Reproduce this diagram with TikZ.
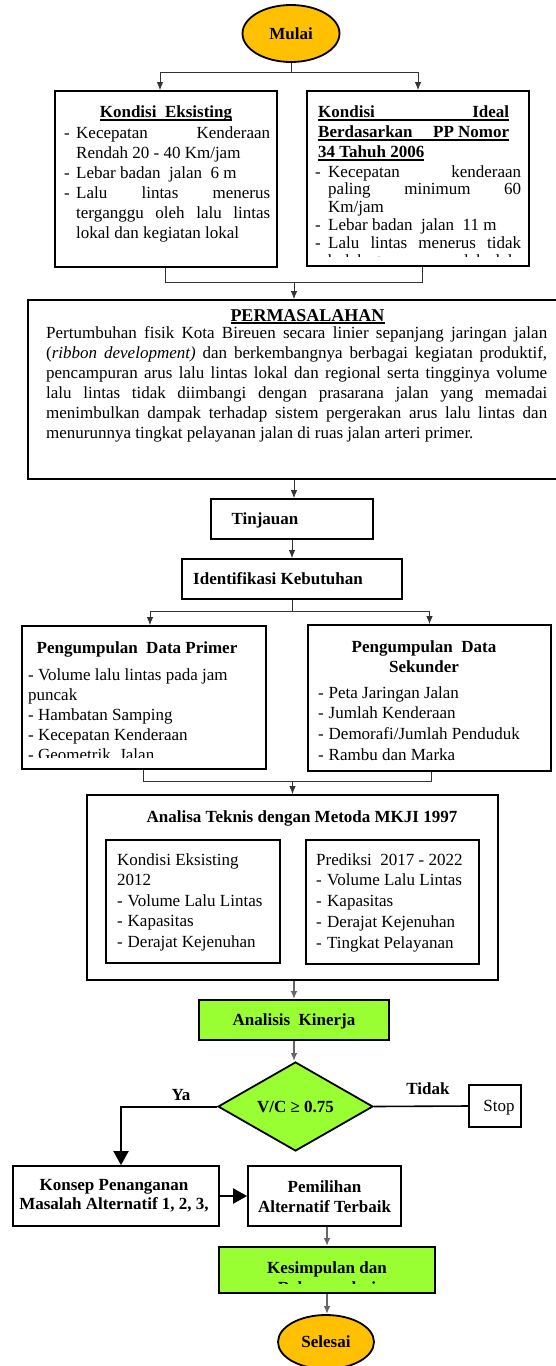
\documentclass[tikz,border=0pt]{standalone}
\usepackage{fontspec}
\setmainfont{Liberation Serif}
\usetikzlibrary{arrows.meta,shapes.geometric}
\definecolor{mygold}{RGB}{255,192,0}
\definecolor{mygreen}{RGB}{153,255,51}
\newcommand\fsn{\fontsize{17}{20}\selectfont}
\newcommand\fsb{\fontsize{17}{20}\selectfont\bfseries}
\newsavebox\ulbox
\newcommand\myul[1]{\sbox\ulbox{#1}\rlap{\vrule height -2.2pt depth 3.8pt width \wd\ulbox}\usebox\ulbox}
\newcommand\myult[1]{\sbox\ulbox{#1}\rlap{\vrule height -1.2pt depth 2.6pt width \wd\ulbox}\usebox\ulbox}
\newcommand\mydash[1]{\makebox[#1][l]{-}}
\tikzset{
  box/.style={draw=black, line width=1.8pt, inner sep=0pt, fill=white},
  ibox/.style={draw=black, line width=1.3pt, inner sep=0pt},
  one/.style={font=\fsb, text height=11.5pt, text depth=0pt},
  txt/.style={inner sep=0pt, align=left, font=\fsn},
  btxt/.style={inner sep=0pt, font=\fsb},
  conn/.style={draw=black!80, line width=0.9pt},
  conng/.style={draw=black!60, line width=1.6pt},
  connk/.style={draw=black, line width=2pt},
  arr/.style={-{Latex[length=8pt,width=6.5pt]}},
  bigarr/.style={-{Triangle[length=14pt,width=15pt]}},
}
\begin{document}
\begin{tikzpicture}[x=1pt,y=-1pt]
\useasboundingbox (0,0) rectangle (555,1366);
\fill[white] (0,0) rectangle (555,1366);

% ---------- boxes ----------
\node[box, ellipse, minimum width=97pt, minimum height=57pt, fill=mygold, one] (mulai) at (291,33.5) {Mulai};
\node[box, minimum width=222pt, minimum height=176pt] (ka) at (166,179) {};
\node[box, minimum width=222pt, minimum height=175pt] (kb) at (418,178.5) {};
\node[box, minimum width=532pt, minimum height=179pt] (perm) at (294,389.5) {};
\node[box, minimum width=162pt, minimum height=40pt, one] (tin) at (292,519) {Tinjauan\hspace*{54pt}};
\node[box, minimum width=220pt, minimum height=40pt, one] (idk) at (292,579) {Identifikasi Kebutuhan\hspace*{28pt}};
\node[box, minimum width=244pt, minimum height=143pt] (pri) at (144,697.5) {};
\node[box, minimum width=243pt, minimum height=146pt] (sek) at (429.5,698) {};
\node[box, minimum width=411pt, minimum height=185pt] (ana) at (292.5,887.5) {};
\node[ibox, minimum width=174pt, minimum height=123pt] (anl) at (193,901.5) {};
\node[ibox, minimum width=173pt, minimum height=124pt] (anr) at (392.5,902) {};
\node[box, minimum width=190pt, minimum height=40pt, fill=mygreen, one] (kin) at (294,1020) {Analisis\ \ Kinerja};
\node[box, diamond, minimum width=155pt, minimum height=89pt, fill=mygreen, one] (dia) at (295.5,1106.5) {V/C ≥ 0.75};
\node[box, minimum width=52pt, minimum height=42pt, font=\fsn, text height=11.5pt, text depth=0pt] (stop) at (495,1106) {\hspace*{8pt}Stop};
\node[box, minimum width=206pt, minimum height=60pt] (kon) at (116,1196) {};
\node[box, minimum width=153pt, minimum height=60pt] (pem) at (324.5,1196) {};
\node[box, minimum width=216pt, minimum height=46pt, fill=mygreen] (kes) at (327,1270) {};
\node[box, ellipse, minimum width=96pt, minimum height=54pt, fill=mygold, one] (sel) at (326,1342) {Selesai};

% ---------- texts ----------
\node[btxt, anchor=base] (kaH) at (166,117) {\myul{Kondisi\ \ Eksisting}};
\node[txt, anchor=north west] (kaT) at (64,124) {%
\strut\mydash{12pt}\makebox[194pt][s]{Kecepatan Kenderaan}\\
\hspace*{12pt}Rendah 20 - 40 Km/jam\\
\mydash{12pt}Lebar badan\ \ jalan\ \ 6 m\\
\mydash{12pt}\makebox[194pt][s]{Lalu lintas menerus}\\
\hspace*{12pt}\makebox[194pt][s]{terganggu oleh lalu lintas}\\
\hspace*{12pt}lokal dan kegiatan lokal};

\node[txt, font=\fsb, anchor=north west] (kbH) at (318,103) {%
\strut\myul{\makebox[191pt][s]{Kondisi Ideal}}\\
\myul{\makebox[191pt][l]{Berdasarkan\hfill PP Nomor}}\\
\myul{34 Tahuh 2006}};
\begin{scope}
\clip (309,100) rectangle (527,256);
\node[txt, font=\fontsize{17}{17.8}\selectfont, anchor=north west] (kbT) at (315,164.5) {%
\strut\mydash{13pt}\makebox[193pt][s]{Kecepatan kenderaan}\\
\hspace*{13pt}\makebox[193pt][s]{paling minimum 60}\\
\hspace*{13pt}Km/jam\\
\mydash{13pt}Lebar badan\ \ jalan\ \ 11 m\\
\mydash{13pt}\makebox[193pt][s]{Lalu lintas menerus tidak}\\
\hspace*{13pt}\makebox[193pt][s]{boleh terganggu oleh lalu}};
\end{scope}

\node[inner sep=0pt, font=\fontsize{18}{20}\selectfont\bfseries, anchor=base] (permH) at (307.5,321) {\myult{PERMASALAHAN}};
\node[txt, anchor=north west] (permT) at (46,324.5) {%
\strut\makebox[501pt][s]{Pertumbuhan fisik Kota Bireuen secara linier sepanjang jaringan jalan}\\
\makebox[501pt][s]{(\textit{ribbon development)} dan berkembangnya berbagai kegiatan produktif,}\\
\makebox[501pt][s]{pencampuran arus lalu lintas lokal dan regional serta tingginya volume}\\
\makebox[501pt][s]{lalu lintas tidak diimbangi dengan prasarana jalan yang memadai}\\
\makebox[501pt][s]{menimbulkan dampak terhadap sistem pergerakan arus lalu lintas dan}\\
menurunnya tingkat pelayanan jalan di ruas jalan arteri primer.};

\node[btxt, anchor=base] (priH) at (137,653) {Pengumpulan\ \ Data Primer};
\begin{scope}
\clip (24,628) rectangle (264,757);
\node[txt, anchor=north west] (priT) at (28,666) {%
\strut - Volume lalu lintas pada jam\\
puncak\\
- Hambatan Samping\\
- Kecepatan Kenderaan\\
- Geometrik\ \ Jalan};
\end{scope}

\node[inner sep=0pt, align=center, font=\fsb, anchor=north] (sekH) at (424,638) {\strut Pengumpulan\ \ Data\\Sekunder};
\node[txt, font=\fontsize{17}{20.8}\selectfont, anchor=north west] (sekT) at (318,683.4) {%
\strut\mydash{10.5pt}Peta Jaringan Jalan\\
\mydash{10.5pt}Jumlah Kenderaan\\
\mydash{10.5pt}Demorafi/Jumlah Penduduk\\
\mydash{10.5pt}Rambu dan Marka};

\node[btxt, anchor=base] (anaH) at (302,822) {Analisa Teknis dengan Metoda MKJI 1997};
\node[txt, font=\fontsize{17}{20.5}\selectfont, anchor=north west] (anlT) at (117,850.6) {%
\strut Kondisi Eksisting\\
2012\\
\mydash{10.5pt}Volume Lalu Lintas\\
\mydash{10.5pt}Kapasitas\\
\mydash{10.5pt}Derajat Kejenuhan};
\node[txt, font=\fontsize{17}{20.7}\selectfont, anchor=north west] (anrT) at (316,850.5) {%
\strut Prediksi\ \ 2017 - 2022\\
\mydash{11pt}Volume Lalu Lintas\\
\mydash{11pt}Kapasitas\\
\mydash{11pt}Derajat Kejenuhan\\
\mydash{11pt}Tingkat Pelayanan};

\node[btxt, anchor=base] (ya) at (181,1100) {Ya};
\node[btxt, anchor=base] (tidak) at (428,1094) {Tidak};

\node[inner sep=0pt, align=center, font=\fontsize{17}{19}\selectfont\bfseries, anchor=north] (konT) at (114,1176.7) {\strut Konsep Penanganan\\Masalah Alternatif 1, 2, 3,};
\node[inner sep=0pt, align=center, font=\fsb, anchor=north] (pemT) at (324.5,1178) {\strut Pemilihan\\Alternatif Terbaik};
\begin{scope}
\clip (221,1249) rectangle (433,1283);
\node[inner sep=0pt, align=center, font=\fsb, anchor=north] (kesT) at (327,1259) {\strut Kesimpulan dan\\Rekomendasi};
\end{scope}

% ---------- connectors ----------
\coordinate (s1) at (291,72);
\draw[conn] (mulai.south) -- (s1);
\draw[conn, arr] (s1) -| ([xshift=-6pt]ka.north);
\draw[conn, arr] (s1) -| (kb.north);
\coordinate (m1) at (294,282);
\draw[conn] ([xshift=-1pt]ka.south) |- (m1);
\draw[conn] ([xshift=4pt]kb.south) |- (m1);
\draw[conn, arr] (m1) -- (perm.north);
\draw[conn, arr] (perm.south) -- (perm.south |- tin.north);
\draw[conn, arr] (tin.south) -- (idk.north);
\coordinate (s2) at (292,611);
\draw[conn] (idk.south) -- (s2);
\draw[conn, arr] (s2) -| ([xshift=6pt]pri.north);
\draw[conn, arr] (s2) -| (sek.north);
\coordinate (m2) at (292.5,781);
\draw[conn] ([xshift=-1pt]pri.south) |- (m2);
\draw[conn] ([xshift=1.5pt]sek.south) |- (m2);
\draw[conn, arr] (m2) -- (ana.north);
\draw[conng, arr] (ana.south -| kin.north) -- (kin.north);
\draw[conng, arr] (kin.south) -- (kin.south |- dia.north);
\draw[connk, bigarr] (dia.west) -| ([xshift=5pt]kon.north);
\draw[connk, line width=1.6pt] (dia.east) -- (stop.west);
\draw[connk, bigarr] (kon.east) -- (pem.west);
\draw[conng, arr] (pem.south -| kes.north) -- (kes.north);
\draw[conng, arr] (kes.south) -- (kes.south |- sel.north);
\end{tikzpicture}
\end{document}
